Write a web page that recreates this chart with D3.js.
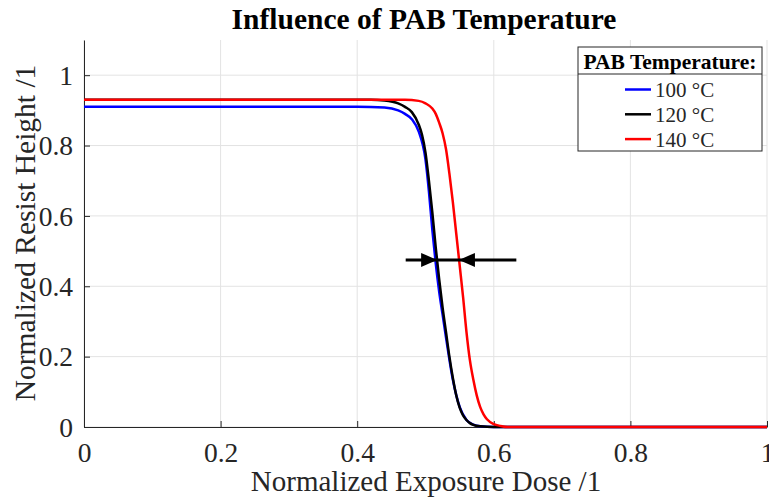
<!DOCTYPE html>
<html><head><meta charset="utf-8">
<script src="https://cdn.jsdelivr.net/npm/d3@7"></script>
<style>body{margin:0;background:#fff;} svg{display:block;} text{font-family:"Liberation Serif","Times New Roman",serif;}</style>
</head><body>
<svg id="c" width="769" height="499"></svg>
<script>
const seriesNames = ["100 °C", "120 °C", "140 °C"];
const seriesColors = ["#0000ff", "#000000", "#ff0000"];
const dose100 = [0, 0.40, 0.44, 0.46, 0.47, 0.48, 0.49, 0.50, 0.505, 0.51, 0.515, 0.52, 0.525, 0.53, 0.54, 0.55, 0.56, 0.57, 0.58, 0.60, 1.0];
const height100 = [0.91, 0.91, 0.908, 0.90, 0.89, 0.875, 0.84, 0.76, 0.67, 0.56, 0.465, 0.385, 0.32, 0.255, 0.135, 0.057, 0.02, 0.007, 0.002, 0, 0];
const dose120 = [0, 0.42, 0.44, 0.46, 0.47, 0.48, 0.49, 0.495, 0.50, 0.505, 0.51, 0.515, 0.52, 0.525, 0.53, 0.535, 0.54, 0.545, 0.55, 0.555, 0.56, 0.565, 0.57, 0.58, 0.60, 1.0];
const height120 = [0.93, 0.93, 0.928, 0.92, 0.91, 0.895, 0.86, 0.83, 0.78, 0.70, 0.61, 0.51, 0.42, 0.34, 0.27, 0.20, 0.14, 0.09, 0.055, 0.033, 0.02, 0.011, 0.006, 0.002, 0, 0];
const dose140 = [0, 0.47, 0.49, 0.50, 0.51, 0.515, 0.52, 0.525, 0.53, 0.535, 0.54, 0.545, 0.55, 0.555, 0.56, 0.565, 0.57, 0.575, 0.58, 0.585, 0.59, 0.60, 0.61, 0.62, 1.0];
const height140 = [0.93, 0.93, 0.927, 0.92, 0.905, 0.89, 0.865, 0.835, 0.79, 0.72, 0.64, 0.55, 0.46, 0.37, 0.27, 0.19, 0.135, 0.09, 0.057, 0.036, 0.022, 0.008, 0.003, 0, 0];
const xTicks = [0, 0.2, 0.4, 0.6, 0.8, 1];
const yTicks = [0, 0.2, 0.4, 0.6, 0.8, 1];
const arrowY = 0.475;
const arrowLeftStart = 0.471, arrowLeftEnd = 0.517;
const arrowRightStart = 0.633, arrowRightEnd = 0.549;

const svg = d3.select("#c");
const x = d3.scaleLinear().domain([0, 1]).range([84, 767]);
const y = d3.scaleLinear().domain([0, 1.1]).range([427, 40]);

// grid
const g = svg.append("g");
g.selectAll(".gx").data(xTicks).join("line")
  .attr("x1", d => x(d)).attr("x2", d => x(d)).attr("y1", 40).attr("y2", 427)
  .attr("stroke", "#e3e3e3").attr("stroke-width", 1);
g.selectAll(".gy").data(yTicks).join("line")
  .attr("x1", 84).attr("x2", 767).attr("y1", d => y(d)).attr("y2", d => y(d))
  .attr("stroke", "#e3e3e3").attr("stroke-width", 1);

// axes
const xAxis = d3.axisBottom(x).tickValues(xTicks).tickFormat(d3.format("~g")).tickSizeInner(-6).tickSizeOuter(0);
const yAxis = d3.axisLeft(y).tickValues(yTicks).tickFormat(d3.format("~g")).tickSizeInner(-6).tickSizeOuter(0).tickPadding(11);
const gx = svg.append("g").attr("transform", "translate(0,427)").call(xAxis);
const gy = svg.append("g").attr("transform", "translate(84,0)").call(yAxis);
[gx, gy].forEach(a => {
  a.select(".domain").attr("stroke", "#262626").attr("stroke-width", 1);
  a.selectAll(".tick line").attr("stroke", "#262626");
  a.selectAll(".tick text").attr("font-family", "Liberation Serif").attr("font-size", 27.5).attr("fill", "#262626");
});
gx.selectAll(".tick text").attr("y", 34.5).attr("dy", "0");
gy.selectAll(".tick text").attr("dy", "0.34em");

// curves
const line = d3.line().x(d => x(d[0])).y(d => y(d[1])).curve(d3.curveMonotoneX);
const series = [d3.zip(dose100, height100), d3.zip(dose120, height120), d3.zip(dose140, height140)];
series.forEach((s, i) => {
  svg.append("path").datum(s).attr("d", line).attr("fill", "none")
    .attr("stroke", seriesColors[i]).attr("stroke-width", 2.5);
});

// arrows
const ay = y(arrowY);
svg.append("line").attr("x1", x(arrowLeftStart)).attr("x2", x(arrowRightStart))
  .attr("y1", ay).attr("y2", ay).attr("stroke", "#000").attr("stroke-width", 3);
const hl = 16, hh = 7;
svg.append("path").attr("d", `M${x(arrowLeftEnd)},${ay} L${x(arrowLeftEnd)-hl},${ay-hh} L${x(arrowLeftEnd)-hl},${ay+hh} Z`).attr("fill", "#000");
svg.append("path").attr("d", `M${x(arrowRightEnd)},${ay} L${x(arrowRightEnd)+hl},${ay-hh} L${x(arrowRightEnd)+hl},${ay+hh} Z`).attr("fill", "#000");

// title and labels
svg.append("text").attr("x", 424).attr("y", 29).attr("text-anchor", "middle")
  .attr("font-size", 29.5).attr("font-weight", "bold").attr("fill", "#000").text("Influence of PAB Temperature");
svg.append("text").attr("x", 426).attr("y", 491).attr("text-anchor", "middle")
  .attr("font-size", 29).attr("fill", "#262626").text("Normalized Exposure Dose /1");
svg.append("text").attr("transform", "translate(35,233) rotate(-90)").attr("text-anchor", "middle")
  .attr("font-size", 29.5).attr("fill", "#262626").text("Normalized Resist Height /1");

// legend
const lg = svg.append("g");
lg.append("rect").attr("x", 578).attr("y", 47).attr("width", 184).attr("height", 104)
  .attr("fill", "#fff").attr("stroke", "#262626").attr("stroke-width", 1);
lg.append("line").attr("x1", 578).attr("x2", 762).attr("y1", 74).attr("y2", 74).attr("stroke", "#262626");
lg.append("text").attr("x", 670).attr("y", 69).attr("text-anchor", "middle")
  .attr("font-size", 21.5).attr("font-weight", "bold").attr("fill", "#000").text("PAB Temperature:");
seriesNames.forEach((n, i) => {
  const yy = 89.5 + i * 24.8;
  lg.append("line").attr("x1", 625).attr("x2", 651).attr("y1", yy).attr("y2", yy)
    .attr("stroke", seriesColors[i]).attr("stroke-width", 2.5);
  lg.append("text").attr("x", 655).attr("y", yy + 7.5).attr("font-size", 21).attr("fill", "#262626").text(n);
});
</script>
</body></html>
